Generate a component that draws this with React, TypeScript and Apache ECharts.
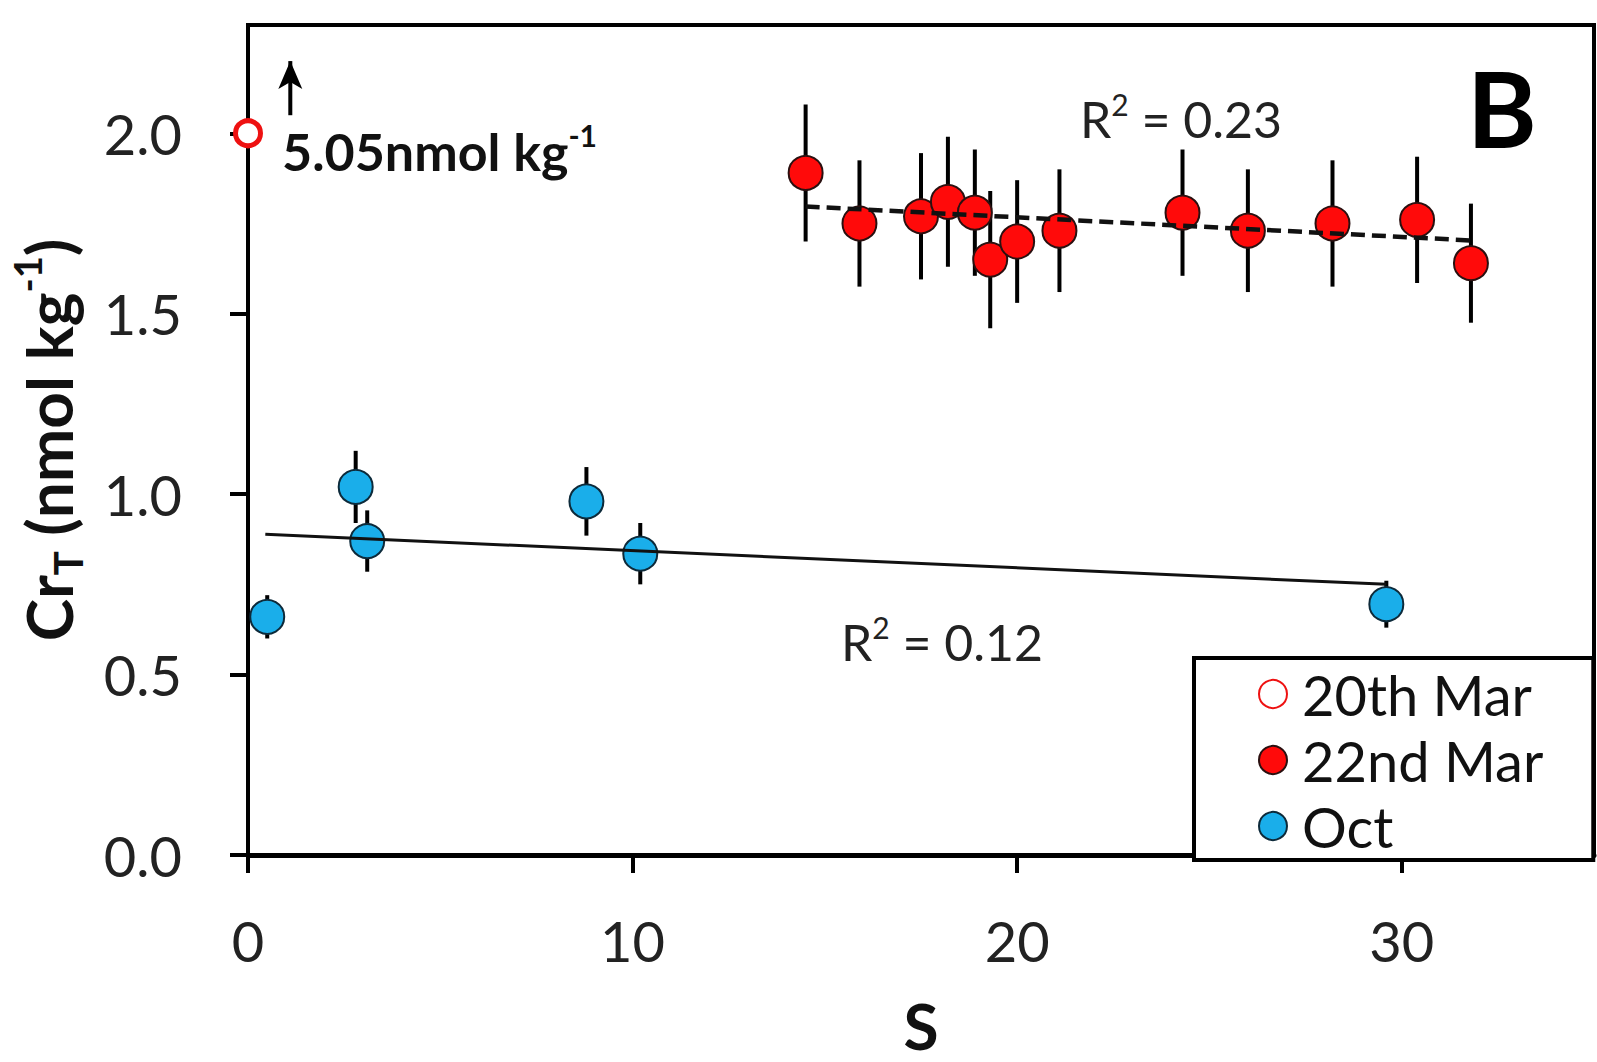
import React, { useEffect, useRef } from 'react';
import * as echarts from 'echarts';

// ---- data ----
const mar22X = [14.5, 15.9, 17.5, 18.2, 18.9, 19.3, 20.0, 21.1, 24.3, 26.0, 28.2, 30.4, 31.8];
const mar22Y = [1.89, 1.75, 1.77, 1.81, 1.78, 1.65, 1.70, 1.73, 1.78, 1.73, 1.75, 1.76, 1.64];
const mar22Err = [0.19, 0.175, 0.175, 0.18, 0.175, 0.19, 0.17, 0.17, 0.175, 0.17, 0.175, 0.175, 0.165];

const octX = [0.5, 2.8, 3.1, 8.8, 10.2, 29.6];
const octY = [0.66, 1.02, 0.87, 0.98, 0.835, 0.695];
const octErr = [0.06, 0.1, 0.085, 0.095, 0.085, 0.065];

const mar20X = [0];
const mar20Y = [2.0];

const mar22TrendX = [14.5, 31.8];
const mar22TrendY = [1.797, 1.703];
const octTrendX = [0.45, 29.6];
const octTrendY = [0.889, 0.75];

const arrowX = [1.1, 1.1];
const arrowY = [2.05, 2.2];

const xTicks = [0, 10, 20, 30];
const yTicks = [0, 0.5, 1.0, 1.5, 2.0];

const FONT = 'Lato';

const zip = (xs: number[], ys: number[]) => xs.map((x, i) => [x, ys[i]]);
const zip3 = (xs: number[], ys: number[], es: number[]) => xs.map((x, i) => [x, ys[i], es[i]]);

const errRender = (params: any, api: any) => {
  const x = api.value(0);
  const y = api.value(1);
  const e = api.value(2);
  const p1 = api.coord([x, y - e]);
  const p2 = api.coord([x, y + e]);
  return {
    type: 'line',
    shape: { x1: p1[0], y1: p1[1], x2: p2[0], y2: p2[1] },
    style: { stroke: '#000', lineWidth: 4 },
  };
};

export default function App() {
  const ref = useRef<HTMLDivElement>(null);
  useEffect(() => {
    const chart = echarts.init(ref.current!, null, { renderer: 'svg' });
    const option: any = {
      animation: false,
      backgroundColor: '#fff',
      grid: {
        left: 244,
        right: 3,
        top: 25,
        bottom: 204,
        show: true,
        borderColor: '#000',
        borderWidth: 4,
        backgroundColor: 'transparent',
      },
      xAxis: {
        type: 'value',
        min: 0,
        max: 35,
        name: 'S',
        nameLocation: 'middle',
        nameGap: 138,
        nameTextStyle: { fontFamily: FONT, fontSize: 64, fontWeight: 'bold', color: '#111' },
        axisLine: { show: true, onZero: false, lineStyle: { color: '#000', width: 5 } },
        axisTick: { show: true, length: 18, lineStyle: { color: '#000', width: 4 }, customValues: xTicks },
        axisLabel: { customValues: xTicks, margin: 57, fontSize: 56, fontFamily: FONT, color: '#222' },
        splitLine: { show: false },
      },
      yAxis: {
        type: 'value',
        min: 0,
        max: 2.3,
        name: '{b|Cr}{sub|T}{b| (nmol kg}{sup|-1}{b|)}',
        nameLocation: 'middle',
        nameRotate: 90,
        nameGap: 160,
        nameTextStyle: {
          fontFamily: FONT,
          fontSize: 64,
          fontWeight: 'bold',
          color: '#111',
          rich: {
            b: { fontFamily: FONT, fontSize: 64, fontWeight: 'bold', color: '#111', lineHeight: 80, verticalAlign: 'middle' },
            sub: { fontFamily: FONT, fontSize: 40, fontWeight: 'bold', color: '#111', lineHeight: 40, verticalAlign: 'bottom' },
            sup: { fontFamily: FONT, fontSize: 38, fontWeight: 'bold', color: '#111', lineHeight: 40, verticalAlign: 'top' },
          },
        },
        axisLine: { show: true, lineStyle: { color: '#000', width: 4 } },
        axisTick: { show: true, length: 18, lineStyle: { color: '#000', width: 4 }, customValues: yTicks },
        axisLabel: {
          customValues: yTicks,
          margin: 66,
          fontSize: 56,
          fontFamily: FONT,
          color: '#222',
          formatter: (v: number) => v.toFixed(1),
        },
        splitLine: { show: false },
      },
      legend: {
        data: [
          { name: '20th Mar', icon: 'circle' },
          { name: '22nd Mar', icon: 'circle' },
          { name: 'Oct', icon: 'circle' },
        ],
        orient: 'vertical',
        left: 1194,
        top: 658,
        padding: [8, 50, 6, 64],
        itemWidth: 28,
        itemHeight: 28,
        itemGap: 10,
        borderColor: '#000',
        borderWidth: 4,
        borderRadius: 0,
        backgroundColor: '#fff',
        selectedMode: false,
        textStyle: { fontSize: 56, fontFamily: FONT, color: '#111', lineHeight: 56, padding: [0, 0, 0, 10] },
      },
      graphic: [
        {
          type: 'text',
          left: 282,
          top: 120,
          style: {
            text: '{b|5.05nmol kg}{s|-1}',
            rich: {
              b: { fontFamily: FONT, fontSize: 52, fontWeight: 'bold', fill: '#111', lineHeight: 62, verticalAlign: 'middle' },
              s: { fontFamily: FONT, fontSize: 30, fontWeight: 'bold', fill: '#111', lineHeight: 30, verticalAlign: 'top' },
            },
          },
          z: 10,
        },
        {
          type: 'text',
          x: 1181,
          y: 119,
          style: {
            text: '{a|R}{s|2}{a| = 0.23}',
            align: 'center',
            verticalAlign: 'middle',
            rich: {
              a: { fontFamily: FONT, fontSize: 50, fill: '#222', lineHeight: 60, verticalAlign: 'middle' },
              s: { fontFamily: FONT, fontSize: 30, fill: '#222', lineHeight: 30, verticalAlign: 'top' },
            },
          },
          z: 10,
        },
        {
          type: 'text',
          x: 942,
          y: 642,
          style: {
            text: '{a|R}{s|2}{a| = 0.12}',
            align: 'center',
            verticalAlign: 'middle',
            rich: {
              a: { fontFamily: FONT, fontSize: 50, fill: '#222', lineHeight: 60, verticalAlign: 'middle' },
              s: { fontFamily: FONT, fontSize: 30, fill: '#222', lineHeight: 30, verticalAlign: 'top' },
            },
          },
          z: 10,
        },
        {
          type: 'text',
          x: 1502,
          y: 107,
          style: {
            text: 'B',
            align: 'center',
            verticalAlign: 'middle',
            fontFamily: FONT,
            fontSize: 106,
            fontWeight: 'bold',
            fill: '#000',
          },
          z: 10,
        },
      ],
      series: [
        {
          name: 'err22',
          type: 'custom',
          renderItem: errRender,
          encode: { x: 0, y: 1 },
          data: zip3(mar22X, mar22Y, mar22Err),
          z: 2,
          silent: true,
        },
        {
          name: '22nd Mar',
          type: 'scatter',
          data: zip(mar22X, mar22Y),
          symbol: 'circle',
          symbolSize: 34,
          itemStyle: { color: '#ff0a0a', borderColor: '#2a1010', borderWidth: 2, opacity: 1 },
          z: 3,
        },
        {
          name: 'trend22',
          type: 'line',
          data: zip(mar22TrendX, mar22TrendY),
          symbol: 'none',
          lineStyle: { color: '#111', width: 4.5, type: [14, 7] },
          z: 4,
          silent: true,
        },
        {
          name: 'errOct',
          type: 'custom',
          renderItem: errRender,
          encode: { x: 0, y: 1 },
          data: zip3(octX, octY, octErr),
          z: 2,
          silent: true,
        },
        {
          name: 'Oct',
          type: 'scatter',
          data: zip(octX, octY),
          symbol: 'circle',
          symbolSize: 34,
          itemStyle: { color: '#1aaeea', borderColor: '#0d2a3a', borderWidth: 2, opacity: 1 },
          z: 3,
        },
        {
          name: 'trendOct',
          type: 'line',
          data: zip(octTrendX, octTrendY),
          symbol: 'none',
          lineStyle: { color: '#111', width: 3 },
          z: 4,
          silent: true,
        },
        {
          name: 'arrow',
          type: 'line',
          data: [
            { value: [arrowX[0], arrowY[0]], symbol: 'none' },
            { value: [arrowX[1], arrowY[1]], symbol: 'arrow', symbolSize: [18, 28] },
          ],
          showSymbol: true,
          lineStyle: { color: '#000', width: 4 },
          itemStyle: { color: '#000' },
          z: 5,
          silent: true,
        },
        {
          name: '20th Mar',
          type: 'scatter',
          data: zip(mar20X, mar20Y),
          symbol: 'circle',
          symbolSize: 25,
          itemStyle: { color: '#fff', borderColor: '#ee1111', borderWidth: 5, opacity: 1 },
          z: 6,
        },
      ],
    };
    chart.setOption(option);
    return () => chart.dispose();
  }, []);
  return (
    <div
      ref={ref}
      style={{ position: 'absolute', left: 0, top: 0, width: 1597, height: 1062, background: '#fff' }}
    />
  );
}
